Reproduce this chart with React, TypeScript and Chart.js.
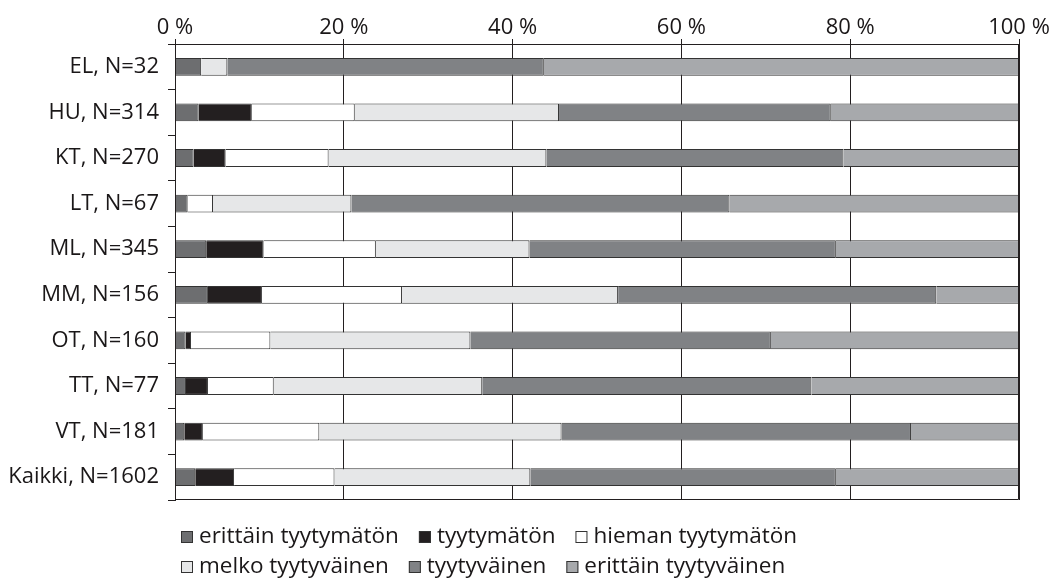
import React, { useEffect, useRef } from 'react';
import { Chart, registerables } from 'chart.js';

Chart.register(...registerables);

const categories = ['EL, N=32', 'HU, N=314', 'KT, N=270', 'LT, N=67', 'ML, N=345', 'MM, N=156', 'OT, N=160', 'TT, N=77', 'VT, N=181', 'Kaikki, N=1602'];
const seriesLabels = ['erittäin tyytymätön', 'tyytymätön', 'hieman tyytymätön', 'melko tyytyväinen', 'tyytyväinen', 'erittäin tyytyväinen'];
const erittainTyytymaton = [3.1, 2.8, 2.2, 1.5, 3.7, 3.9, 1.25, 1.3, 1.1, 2.4];
const tyytymaton = [0, 6.3, 3.8, 0, 6.8, 6.4, 0.65, 2.6, 2.2, 4.6];
const hiemanTyytymaton = [0, 12.2, 12.2, 3.0, 13.3, 16.6, 9.4, 7.8, 13.8, 11.9];
const melkoTyytyvainen = [3.1, 24.2, 25.8, 16.4, 18.2, 25.6, 23.7, 24.7, 28.7, 23.2];
const tyytyvainen = [37.5, 32.2, 35.2, 44.8, 36.3, 37.7, 35.6, 39.0, 41.4, 36.2];
const erittainTyytyvainen = [56.3, 22.3, 20.8, 34.3, 21.7, 9.8, 29.4, 24.6, 12.8, 21.7];
const seriesValues = [erittainTyytymaton, tyytymaton, hiemanTyytymaton, melkoTyytyvainen, tyytyvainen, erittainTyytyvainen];
const seriesColors = ['#6d6e70', '#231f20', '#ffffff', '#e6e7e8', '#808285', '#a7a9ac'];
const xTicks = [0, 20, 40, 60, 80, 100];
const legendRows = [[0, 1, 2], [3, 4, 5]];

const FONT = '"Open Sans", "Noto Sans", sans-serif';
const TEXT = '#1a1718';
const LINE = '#231f20';

const framePlugin = {
  id: 'frame',
  afterDatasetsDraw(chart: any) {
    const { ctx, chartArea: a } = chart;
    ctx.save();
    ctx.strokeStyle = LINE;
    ctx.lineWidth = 1;
    const l = Math.round(a.left) + 0.5;
    const r = Math.round(a.right) - 0.5;
    const t = Math.round(a.top) + 0.5;
    const b = Math.round(a.bottom) - 0.5;
    ctx.beginPath();
    ctx.moveTo(l, t);
    ctx.lineTo(r, t);
    ctx.lineTo(r, b);
    ctx.lineTo(l, b);
    ctx.closePath();
    ctx.stroke();
    ctx.restore();
  },
};

const legendPlugin = {
  id: 'customLegend',
  afterDraw(chart: any) {
    const { ctx, chartArea } = chart;
    ctx.save();
    ctx.font = '500 22.5px ' + FONT;
    ctx.textBaseline = 'middle';
    ctx.textAlign = 'left';
    legendRows.forEach((row, r) => {
      let x = Math.round(chartArea.left) + 6;
      const y = Math.round(chartArea.bottom) + 37 + r * 30;
      row.forEach((i) => {
        const ds = chart.data.datasets[i];
        ctx.fillStyle = ds.backgroundColor;
        ctx.fillRect(x, y - 6, 12, 12);
        ctx.strokeStyle = '#333333';
        ctx.lineWidth = 1;
        ctx.strokeRect(x + 0.5, y - 5.5, 11, 11);
        ctx.fillStyle = TEXT;
        ctx.fillText(ds.label, x + 18, y);
        x += 18 + ctx.measureText(ds.label).width + 20;
      });
    });
    ctx.restore();
  },
};

export default function App() {
  const ref = useRef<HTMLCanvasElement | null>(null);
  useEffect(() => {
    if (!ref.current) return;
    const chart = new Chart(ref.current, {
      type: 'bar',
      data: {
        labels: categories,
        datasets: seriesLabels.map((label, i) => ({
          label,
          data: seriesValues[i],
          backgroundColor: seriesColors[i],
          borderColor: '#333333',
          borderWidth: 1,
          borderSkipped: 'start',
          categoryPercentage: 1,
          barPercentage: 0.39,
        })),
      },
      options: {
        indexAxis: 'y',
        responsive: false,
        animation: false,
        maintainAspectRatio: false,
        layout: { padding: { left: 0, right: 38, top: 0, bottom: 78 } },
        plugins: {
          legend: { display: false },
          tooltip: { enabled: false },
        },
        scales: {
          x: {
            position: 'top',
            stacked: true,
            min: 0,
            max: 100,
            afterBuildTicks: (axis: any) => {
              axis.ticks = xTicks.map((v) => ({ value: v }));
            },
            afterFit: (scale: any) => {
              scale.height = 44;
            },
            ticks: {
              callback: (v: any) => v + ' %',
              color: TEXT,
              font: { family: FONT, size: 22, weight: '500' },
              padding: -2,
              maxRotation: 0,
            },
            grid: {
              color: LINE,
              lineWidth: 1,
              tickLength: 5,
              tickColor: LINE,
            },
            border: { display: true, color: LINE, width: 1 },
          },
          y: {
            stacked: true,
            afterFit: (scale: any) => {
              scale.width = 175;
            },
            ticks: {
              color: TEXT,
              font: { family: FONT, size: 22, weight: '500' },
              padding: 9,
            },
            grid: {
              offset: true,
              drawOnChartArea: false,
              tickLength: 7,
              tickColor: LINE,
            },
            border: { display: true, color: LINE, width: 1 },
          },
        },
      },
      plugins: [framePlugin, legendPlugin],
    });
    return () => chart.destroy();
  }, []);
  return (
    <div style={{ position: 'absolute', left: 0, top: 0, width: 1057, height: 578, background: '#ffffff' }}>
      <canvas ref={ref} width={1057} height={578} />
    </div>
  );
}
